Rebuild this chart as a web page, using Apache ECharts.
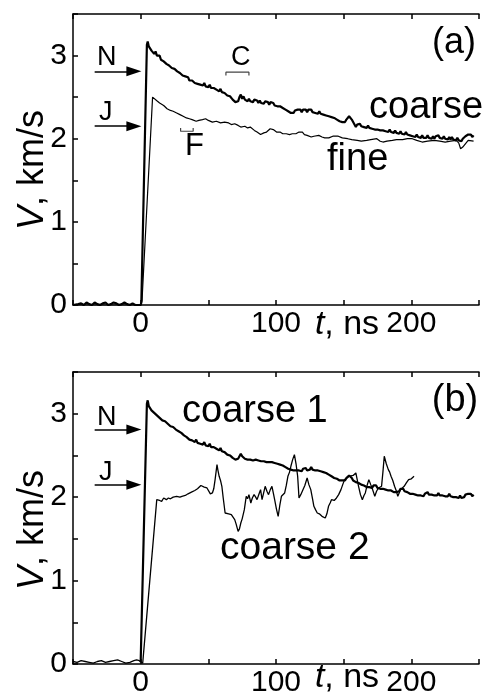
<!DOCTYPE html>
<html>
<head>
<meta charset="utf-8">
<script src="https://cdn.jsdelivr.net/npm/echarts@6/dist/echarts.min.js"></script>
<style>
html, body { margin: 0; padding: 0; background: #fff; }
#main { width: 482px; height: 698px; }
</style>
</head>
<body>
<div id="main"></div>
<script>
// axis ticks / labels
var xTicks = [0, 100, 200];
var yTicks = [0, 1, 2, 3];

// ---- panel (a) ----
var baseA = [[-50, 0], [-46, 0.01], [-44, 0.02], [-42, 0], [-40, 0.03], [-38, 0.01], [-36, 0], [-34, 0.03], [-32, 0.01],
  [-30, 0], [-28, 0.02], [-26, 0.03], [-24, 0], [-22, 0.01], [-20, 0.03], [-18, 0.02], [-16, 0], [-14, 0.01],
  [-12, 0.03], [-10, 0.01], [-8, 0], [-6, 0.02], [-4, 0], [0, 0]];
var riseCoarseA = [[0.5, 0.03], [4.6, 3.13], [5.2, 3.17]];
// coarse, one value per ns starting at t = 6
var coarseAStart = 6;
var coarseA = [
  3.11, 3.13, 3.06, 3.07, 3.02, 3.05, 3.00, 2.98, 3.00, 2.95,
  2.97, 2.93, 2.94, 2.90, 2.91, 2.88, 2.90, 2.85, 2.86, 2.84,
  2.86, 2.81, 2.82, 2.79, 2.80, 2.76, 2.78, 2.75, 2.73, 2.74,
  2.70, 2.72, 2.70, 2.71, 2.67, 2.69, 2.66, 2.68, 2.65, 2.67,
  2.64, 2.67, 2.63, 2.65, 2.62, 2.65, 2.61, 2.63, 2.61, 2.62,
  2.59, 2.61, 2.57, 2.60, 2.56, 2.58, 2.55, 2.56, 2.52, 2.54,
  2.51, 2.50, 2.47, 2.48, 2.44, 2.46, 2.45, 2.50, 2.53, 2.48,
  2.51, 2.47, 2.49, 2.45, 2.48, 2.45, 2.47, 2.44, 2.47, 2.45,
  2.46, 2.43, 2.46, 2.43, 2.45, 2.42, 2.45, 2.43, 2.44, 2.41,
  2.44, 2.42, 2.43, 2.40, 2.42, 2.39, 2.41, 2.39, 2.40, 2.37,
  2.38, 2.35, 2.36, 2.33, 2.34, 2.31, 2.33, 2.31, 2.34, 2.32,
  2.35, 2.33, 2.35, 2.32, 2.35, 2.33, 2.35, 2.32, 2.35, 2.33,
  2.35, 2.32, 2.34, 2.31, 2.33, 2.30, 2.33, 2.30, 2.32, 2.29,
  2.31, 2.28, 2.30, 2.27, 2.29, 2.26, 2.28, 2.25, 2.26, 2.23,
  2.24, 2.21, 2.23, 2.20, 2.22, 2.20, 2.23, 2.25, 2.27, 2.25,
  2.23, 2.20, 2.17, 2.14, 2.17, 2.15, 2.18, 2.15, 2.17, 2.14,
  2.16, 2.13, 2.16, 2.13, 2.15, 2.12, 2.14, 2.11, 2.13, 2.11,
  2.13, 2.10, 2.12, 2.10, 2.12, 2.09, 2.11, 2.08, 2.11, 2.08,
  2.10, 2.07, 2.10, 2.07, 2.09, 2.06, 2.09, 2.06, 2.08, 2.05,
  2.08, 2.05, 2.07, 2.04, 2.06, 2.03, 2.05, 2.02, 2.05, 2.02,
  2.04, 2.01, 2.04, 2.01, 2.03, 2.01, 2.04, 2.01, 2.03, 2.00,
  2.03, 2.00, 2.03, 2.01, 2.04, 2.01, 2.03, 2.00, 2.03, 2.00,
  2.02, 1.99, 2.02, 1.99, 2.02, 1.99, 2.01, 1.98, 2.01, 1.98,
  2.00, 1.97, 2.00, 2.01, 2.03, 2.02, 2.05, 2.03, 2.05, 2.02,
  2.04];
var fineA = [[-50, 0], [0, 0], [1, 0.05], [8.8, 2.5], [10, 2.48], [12.4, 2.45], [14, 2.43], [17, 2.40], [19.5, 2.36],
  [22, 2.34], [24, 2.33], [26.6, 2.31], [29, 2.29], [31.4, 2.27], [33.8, 2.25], [36, 2.24], [38, 2.23], [41, 2.21],
  [43, 2.22], [45.7, 2.23], [48, 2.24], [50, 2.22], [53, 2.2], [56, 2.21], [59, 2.19], [62, 2.2], [65, 2.19],
  [67, 2.17], [69.5, 2.18], [72, 2.16], [74, 2.14], [77, 2.15], [79, 2.13], [81, 2.14], [84, 2.1], [86, 2.08],
  [88.6, 2.05], [91, 2.07], [93, 2.08], [95.7, 2.12], [98, 2.11], [100.4, 2.08], [103, 2.08], [105, 2.06],
  [107.6, 2.06], [110, 2.05], [112, 2.06], [114.7, 2.06], [117, 2.08], [119.5, 2.08], [121, 2.05], [123, 2.04],
  [126, 2.02], [128, 2.03], [131.6, 2.04], [134, 2.02], [136, 2.01], [139, 2.01], [142, 2.03], [146, 2.03],
  [149, 2.01], [153, 2.0], [156, 1.99], [160, 1.98], [163, 1.97], [167, 1.98], [170, 1.99], [174.5, 2.0],
  [177, 1.97], [179, 1.96], [182, 1.97], [186, 1.98], [189, 1.99], [193.6, 1.99], [197, 2.0], [200.7, 2.0],
  [204, 1.98], [208, 1.96], [212, 1.97], [217, 1.98], [221, 1.97], [225, 1.96], [229, 1.97], [233, 1.98],
  [235, 1.95], [236.4, 1.88], [238, 1.9], [239, 1.92], [242, 1.98], [246, 1.97]];
var bracketC = [[63, 2.76], [63, 2.80], [80, 2.80], [80, 2.76]];
var bracketF = [[29.5, 2.13], [29.5, 2.09], [38.8, 2.09], [38.8, 2.13]];

// ---- panel (b) ----
var riseCoarseB1 = [[0, 0.02], [0.5, 0.03], [4.6, 3.12], [5.2, 3.16]];
var coarseB1Start = 6;
var coarseB1 = [
  3.09, 3.11, 3.04, 3.05, 3.01, 3.03, 2.98, 2.99, 2.95, 2.96,
  2.92, 2.94, 2.91, 2.92, 2.88, 2.89, 2.85, 2.87, 2.84, 2.85,
  2.81, 2.83, 2.79, 2.80, 2.77, 2.78, 2.74, 2.76, 2.72, 2.73,
  2.69, 2.71, 2.68, 2.70, 2.66, 2.69, 2.65, 2.67, 2.64, 2.66,
  2.63, 2.66, 2.62, 2.64, 2.61, 2.64, 2.60, 2.62, 2.60, 2.61,
  2.58, 2.60, 2.56, 2.59, 2.55, 2.57, 2.54, 2.55, 2.51, 2.53,
  2.50, 2.49, 2.47, 2.48, 2.45, 2.47, 2.46, 2.49, 2.52, 2.49,
  2.50, 2.46, 2.48, 2.45, 2.47, 2.45, 2.47, 2.44, 2.46, 2.45,
  2.47, 2.44, 2.46, 2.43, 2.45, 2.43, 2.45, 2.42, 2.44, 2.42,
  2.44, 2.42, 2.43, 2.41, 2.43, 2.40, 2.42, 2.39, 2.41, 2.38,
  2.39, 2.36, 2.37, 2.34, 2.36, 2.33, 2.35, 2.32, 2.34, 2.32,
  2.34, 2.32, 2.34, 2.31, 2.34, 2.32, 2.35, 2.32, 2.34, 2.33,
  2.36, 2.33, 2.35, 2.32, 2.34, 2.32, 2.34, 2.31, 2.33, 2.30,
  2.32, 2.29, 2.30, 2.27, 2.28, 2.25, 2.26, 2.23, 2.25, 2.22,
  2.23, 2.20, 2.22, 2.20, 2.21, 2.20, 2.23, 2.25, 2.26, 2.24,
  2.23, 2.20, 2.21, 2.18, 2.19, 2.17, 2.18, 2.15, 2.16, 2.14,
  2.15, 2.12, 2.14, 2.12, 2.14, 2.11, 2.14, 2.12, 2.14, 2.11,
  2.13, 2.10, 2.12, 2.10, 2.12, 2.09, 2.11, 2.08, 2.10, 2.08,
  2.09, 2.06, 2.08, 2.06, 2.07, 2.07, 2.10, 2.08, 2.10, 2.07,
  2.09, 2.06, 2.07, 2.04, 2.06, 2.04, 2.06, 2.03, 2.05, 2.02,
  2.04, 2.02, 2.04, 2.01, 2.04, 2.03, 2.06, 2.03, 2.05, 2.03,
  2.05, 2.02, 2.04, 2.02, 2.05, 2.02, 2.04, 2.02, 2.04, 2.01,
  2.03, 2.01, 2.04, 2.01, 2.03, 2.00, 2.02, 2.00, 2.02, 1.99,
  2.02, 1.99, 2.01, 2.00, 2.03, 2.01, 2.04, 2.02, 2.04, 2.01,
  2.03];
var coarseB2 = [[-50, 0.03], [-47, 0.02], [-44, 0.04], [-41, 0.03], [-38, 0.02], [-35, 0.01], [-32, 0.03],
  [-29, 0.04], [-26, 0.02], [-23, 0.03], [-20, 0.04], [-17, 0.05], [-14, 0.03], [-11, 0.01], [-8, 0.02],
  [-5, 0.04], [-3, 0.05], [-1, 0.04], [1.5, 0.01],
  [11.9, 1.97], [13, 1.95], [14, 1.96], [15.5, 1.95], [17, 1.99], [18, 1.98], [19, 1.97], [20.5, 1.99], [22, 1.98],
  [24, 2.0], [25, 1.99], [26.6, 2.01], [28, 2.02], [29, 2.0], [30.5, 2.01], [31.4, 2.02], [33, 2.02], [34, 2.03],
  [35, 2.04], [36, 2.05], [37.5, 2.06], [38.5, 2.07], [40, 2.08], [41, 2.09], [42, 2.1], [43, 2.11], [44.5, 2.14],
  [45.7, 2.15], [47, 2.12], [48, 2.13], [49, 2.11], [50.4, 2.09], [51.5, 2.04], [53, 2.05], [54, 2.1], [55, 2.21],
  [56.4, 2.39], [57, 2.33], [58, 2.25], [59, 2.2], [60, 2.13], [61, 1.99], [62.4, 1.81], [63.5, 1.83], [65, 1.8],
  [66, 1.82], [67, 1.79], [68, 1.77], [69.5, 1.73], [70.5, 1.68], [72, 1.59], [73, 1.62], [74, 1.69], [75, 1.74],
  [76.6, 1.85], [78, 2.01], [79, 1.98], [80, 2.03], [81.4, 1.93], [82.5, 1.99], [83.8, 2.03], [85, 2.0], [86, 1.97],
  [87.5, 2.04], [88.6, 2.09], [89.7, 1.97], [91, 2.06], [92, 2.13], [93.3, 2.07], [94.5, 2.03], [95.8, 2.09],
  [97, 2.13], [98, 2.05], [99, 1.97], [100.3, 1.86], [101.6, 1.77], [102.8, 1.9], [104, 2.01], [105.2, 2.0],
  [106.4, 2.05], [107.6, 2.14], [108.8, 2.25], [110, 2.3], [111, 2.37], [112.3, 2.45], [113.6, 2.51], [114.8, 2.4],
  [116, 2.25], [117, 1.99], [118.3, 2.03], [119.7, 2.05], [121.3, 2.14], [123, 2.23], [124.3, 2.15], [125.7, 2.09],
  [127, 1.98], [128, 1.89], [129.2, 1.85], [130.5, 1.81], [132, 1.8], [133, 1.78], [134, 1.77], [135.2, 1.78],
  [136.4, 1.75], [137.6, 1.8], [138.8, 1.89], [140, 1.93], [141, 1.97], [143, 1.96], [144.7, 1.99], [146.3, 2.03],
  [148, 2.09], [149.3, 2.15], [150.7, 2.21], [152.5, 2.23], [154, 2.25], [155, 2.27], [157, 2.26], [159, 2.29],
  [160, 2.31], [161, 2.13], [162.4, 2.03], [163.8, 1.97], [165, 2.02], [166, 2.05], [167.3, 2.14], [168.6, 2.21],
  [170, 2.15], [171, 2.11], [172, 2.06], [173, 2.01], [174.3, 2.07], [175.7, 2.11], [177, 2.09], [178, 2.13],
  [179, 2.3], [180, 2.49], [181.5, 2.4], [183, 2.33], [184, 2.3], [185, 2.25], [186.3, 2.2], [187.6, 2.13],
  [189, 2.07], [190, 2.01], [191, 2.05], [192, 2.09], [193.4, 2.1], [194.7, 2.13], [196.3, 2.17], [198, 2.21],
  [200, 2.22], [202, 2.25]];

// arrows N and J (same in both panels)
var arrowN = [[-34, 2.81], [-5, 2.81]];
var arrowJ = [[-34, 2.15], [-5, 2.15]];

function withTime(start, vals) {
  return vals.map(function (v, i) { return [start + i, v]; });
}

var FONT = 'Liberation Sans, Arial, sans-serif';
var chart = echarts.init(document.getElementById('main'), null, { renderer: 'canvas' });

function xAx(grid, pos) {
  return {
    type: 'value', gridIndex: grid, position: pos, min: -50, max: 250, interval: 50,
    axisLine: { show: true, onZero: false, lineStyle: { color: '#000', width: 1.5 } },
    axisTick: { show: true, inside: true, length: 5, lineStyle: { color: '#000', width: 1.5 } },
    axisLabel: {
      show: pos === 'bottom', color: '#000', fontSize: 30, fontFamily: FONT, margin: 4,
      formatter: function (v) { return xTicks.indexOf(v) >= 0 ? String(v) : ''; }
    },
    splitLine: { show: false }
  };
}
function yAx(grid) {
  return {
    type: 'value', gridIndex: grid, min: 0, max: 3.5, interval: 0.5,
    axisLine: { show: true, onZero: false, lineStyle: { color: '#000', width: 1.5 } },
    axisTick: { show: true, inside: true, length: 5, lineStyle: { color: '#000', width: 1.5 } },
    axisLabel: {
      color: '#000', fontSize: 30, fontFamily: FONT, margin: 6,
      formatter: function (v) { return yTicks.indexOf(v) >= 0 ? String(v) : ''; }
    },
    splitLine: { show: false }
  };
}
function arrows() {
  return {
    silent: true, symbol: ['none', 'triangle'], symbolSize: [10, 15], animation: false,
    label: { show: false },
    lineStyle: { color: '#000', width: 1.6, type: 'solid' },
    itemStyle: { color: '#000' },
    data: [
      [{ coord: arrowN[0] }, { coord: arrowN[1] }],
      [{ coord: arrowJ[0] }, { coord: arrowJ[1] }]
    ]
  };
}
function line(name, x, y, data, width, color) {
  return {
    name: name, type: 'line', xAxisIndex: x, yAxisIndex: y, data: data,
    showSymbol: false, symbol: 'none', silent: true, animation: false,
    lineStyle: { color: color || '#000', width: width }
  };
}

var sCoarseA = line('coarse', 0, 0, baseA.concat(riseCoarseA, withTime(coarseAStart, coarseA)), 2.2);
var sFineA = line('fine', 0, 0, fineA, 1.2);
var sBrC = line('bracketC', 0, 0, bracketC, 1.2, '#444');
var sBrF = line('bracketF', 0, 0, bracketF, 1.2, '#444');
sBrC.markLine = arrows();
var sCoarseB1 = line('coarse 1', 2, 1, riseCoarseB1.concat(withTime(coarseB1Start, coarseB1)), 2.2);
var sCoarseB2 = line('coarse 2', 2, 1, coarseB2, 1.3);
sCoarseB2.markLine = arrows();

function txt(x, y, text, size, align, extra) {
  var el = {
    type: 'text', x: x, y: y, silent: true,
    style: {
      text: text, fill: '#000', fontSize: size, fontFamily: FONT,
      textAlign: align || 'left', textVerticalAlign: 'middle'
    }
  };
  if (extra) Object.assign(el.style, extra);
  return el;
}
var italic = { rich: { i: { fontStyle: 'italic', fontSize: 36, fontFamily: FONT, fill: '#000' } } };
var italicT = { rich: { i: { fontStyle: 'italic', fontSize: 34, fontFamily: FONT, fill: '#000' } } };

var graphics = [];
[0, 360].forEach(function (dy) {
  graphics.push(txt(97, 57.5 + dy, 'N', 27));
  graphics.push(txt(99, 112.5 + dy, 'J', 27));
  var yl = txt(33, 170 + dy, '{i|V}, km/s', 36, 'center', italic);
  yl.rotation = Math.PI / 2;
  graphics.push(yl);
});
graphics.push(txt(347, 325, '{i|t}, ns', 34, 'center', italicT));
graphics.push(txt(347, 678, '{i|t}, ns', 34, 'center', italicT));
graphics.push(txt(454, 43, '(a)', 36, 'center'));
graphics.push(txt(455, 401, '(b)', 38, 'center'));
graphics.push(txt(369, 108, 'coarse', 38));
graphics.push(txt(327, 160, 'fine', 38));
graphics.push(txt(231, 57.5, 'C', 27));
graphics.push(txt(185, 146, 'F', 31));
graphics.push(txt(182, 412, 'coarse 1', 38));
graphics.push(txt(220, 548, 'coarse 2', 39));

var option = {
  backgroundColor: '#fff',
  animation: false,
  grid: [
    { left: 73, top: 14, width: 420, height: 291 },
    { left: 73, top: 372, width: 420, height: 293 }
  ],
  xAxis: [xAx(0, 'bottom'), xAx(0, 'top'), xAx(1, 'bottom'), xAx(1, 'top')],
  yAxis: [yAx(0), yAx(1)],
  series: [sCoarseA, sFineA, sBrC, sBrF, sCoarseB1, sCoarseB2],
  graphic: graphics
};
chart.setOption(option);
</script>
</body>
</html>
